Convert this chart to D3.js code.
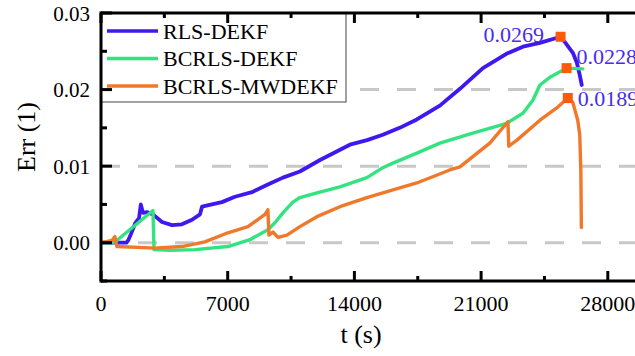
<!DOCTYPE html>
<html><head><meta charset="utf-8">
<script src="https://cdn.jsdelivr.net/npm/d3@7"></script>
<style>body{margin:0;background:#fff}svg{display:block}text{font-family:"Liberation Serif","Times New Roman",serif}</style>
</head><body><svg id="c" width="635" height="356"></svg>
<script>
const seriesNames = ["RLS-DEKF", "BCRLS-DEKF", "BCRLS-MWDEKF"];
const seriesColors = ["#3f17ef", "#33e37f", "#f0782a"];
const rlsT = [0, 1400, 1500, 1650, 1900, 2100, 2200, 2320, 2540, 2870, 3370, 3920, 4470, 5030, 5470, 5580, 6680, 7400, 8340, 9220, 10050, 10990, 12100, 13750, 14700, 15570, 16500, 17450, 18720, 19830, 21100, 22420, 23310, 24250, 25390, 25630, 26070, 26290, 26450, 26560];
const rlsV = [0, 0, 0.0003, 0.0011, 0.0026, 0.0032, 0.0050, 0.0039, 0.0040, 0.0037, 0.0027, 0.0023, 0.0024, 0.0030, 0.0037, 0.0047, 0.0053, 0.0060, 0.0066, 0.0076, 0.0085, 0.0093, 0.0108, 0.0128, 0.0134, 0.0141, 0.0150, 0.0161, 0.0179, 0.0201, 0.0228, 0.0247, 0.0256, 0.0261, 0.0269, 0.0262, 0.0248, 0.0235, 0.0219, 0.0206];
const bcT = [0, 390, 770, 2870, 2930, 3810, 5190, 7010, 8230, 9220, 9610, 10050, 10600, 10990, 11930, 13200, 14690, 15570, 16130, 17450, 18720, 20540, 22420, 23310, 23860, 24250, 24800, 25720, 26620];
const bcV = [0, 0, 0.0001, 0.0042, -0.0009, -0.0010, -0.0009, -0.0005, 0.0004, 0.0017, 0.0026, 0.0039, 0.0053, 0.0059, 0.0065, 0.0073, 0.0085, 0.0098, 0.0104, 0.0117, 0.0130, 0.0143, 0.0156, 0.0169, 0.0186, 0.0206, 0.0216, 0.0228, 0.0227];
const mwT = [0, 610, 770, 880, 2980, 4470, 5740, 7010, 8120, 9060, 9220, 9280, 9500, 9780, 10270, 10990, 11930, 13200, 14690, 16130, 17450, 19270, 19830, 21480, 22480, 22530, 22980, 24250, 25180, 25790, 26070, 26340, 26450, 26510, 26540];
const mwV = [0, 0.0003, 0.0008, -0.0005, -0.0007, -0.0005, 0.0001, 0.0013, 0.0021, 0.0037, 0.0043, 0.0010, 0.0014, 0.0007, 0.0010, 0.0021, 0.0034, 0.0047, 0.0059, 0.0069, 0.0078, 0.0095, 0.0099, 0.0130, 0.0158, 0.0126, 0.0134, 0.0160, 0.0176, 0.0189, 0.0183, 0.0160, 0.0141, 0.0095, 0.0020];
const peakT = [25390, 25720, 25790];
const peakV = [0.0269, 0.0228, 0.0189];
const peakLabels = ["0.0269", "0.0228", "0.0189"];
const xTicks = [0, 7000, 14000, 21000, 28000];
const xMinor = [3500, 10500, 17500, 24500];
const yTicks = [0, 0.01, 0.02, 0.03];
const yTickLabels = ["0.00", "0.01", "0.02", "0.03"];
const yMinor = [-0.005, 0.005, 0.015, 0.025];
const gridV = [0, 0.01, 0.02];

const svg = d3.select("#c");
const x = d3.scaleLinear().domain([0, 30000]).range([101, 644]);
const y = d3.scaleLinear().domain([-0.005, 0.03]).range([281, 13]);

// grid
svg.selectAll(".grid").data(gridV).join("line")
  .attr("x1", x(0)).attr("x2", 640).attr("y1", d => y(d)).attr("y2", d => y(d))
  .attr("stroke", "#c8c8c8").attr("stroke-width", 3).attr("stroke-dasharray", "19,18");

svg.append("clipPath").attr("id", "cp").append("rect")
  .attr("x", x(0)).attr("y", y(0.03)).attr("width", 600).attr("height", y(-0.005) - y(0.03));

const series = [
  {t: rlsT, v: rlsV},
  {t: bcT, v: bcV},
  {t: mwT, v: mwV}
];
const line = d3.line().x(d => x(d[0])).y(d => y(d[1]));
const g = svg.append("g").attr("clip-path", "url(#cp)");
series.forEach((s, i) => {
  g.append("path").datum(s.t.map((t, k) => [t, s.v[k]]))
    .attr("d", line).attr("fill", "none").attr("stroke", seriesColors[i])
    .attr("stroke-width", i === 0 ? 3.8 : 3.4).attr("stroke-linejoin", "round").attr("stroke-linecap", "round");
});

// peak markers
svg.selectAll(".pk").data(peakT).join("rect")
  .attr("x", (d) => x(d) - 5).attr("y", (d, i) => y(peakV[i]) - 5)
  .attr("width", 10).attr("height", 10).attr("fill", "#ff5a0a");

// peak labels
const lblDx = [-77, 10, 10];
const lblDy = [5, -4, 8];
svg.selectAll(".pl").data(peakLabels).join("text")
  .attr("x", (d, i) => x(peakT[i]) + lblDx[i]).attr("y", (d, i) => y(peakV[i]) + lblDy[i])
  .attr("font-size", 22).attr("fill", "#4a2cf0").text(d => d);

// axes lines
const ax = svg.append("g").attr("stroke", "#000").attr("stroke-width", 3).attr("fill", "none");
ax.append("line").attr("x1", x(0)).attr("x2", 640).attr("y1", y(-0.005)).attr("y2", y(-0.005));
ax.append("line").attr("x1", x(0)).attr("x2", 640).attr("y1", y(0.03)).attr("y2", y(0.03));
ax.append("line").attr("x1", x(0)).attr("x2", x(0)).attr("y1", y(0.03) - 1.5).attr("y2", y(-0.005) + 1.5);

xTicks.forEach(t => {
  ax.append("line").attr("x1", x(t)).attr("x2", x(t)).attr("y1", y(-0.005)).attr("y2", y(-0.005) - 10);
  ax.append("line").attr("x1", x(t)).attr("x2", x(t)).attr("y1", y(0.03)).attr("y2", y(0.03) + 10);
});
xMinor.forEach(t => {
  ax.append("line").attr("x1", x(t)).attr("x2", x(t)).attr("y1", y(-0.005)).attr("y2", y(-0.005) - 5);
  ax.append("line").attr("x1", x(t)).attr("x2", x(t)).attr("y1", y(0.03)).attr("y2", y(0.03) + 5);
});
yTicks.forEach(v => {
  ax.append("line").attr("x1", x(0)).attr("x2", x(0) + 11).attr("y1", y(v)).attr("y2", y(v));
});
yMinor.forEach(v => {
  ax.append("line").attr("x1", x(0)).attr("x2", x(0) + 6).attr("y1", y(v)).attr("y2", y(v));
});

// tick labels
svg.selectAll(".xl").data(xTicks).join("text")
  .attr("x", d => x(d)).attr("y", 311).attr("text-anchor", "middle")
  .attr("font-size", 22).text(d => String(d));
svg.selectAll(".yl").data(yTicks).join("text")
  .attr("x", 90).attr("y", d => y(d) + 7.5).attr("text-anchor", "end")
  .attr("font-size", 21).text((d, i) => yTickLabels[i]);

// titles
svg.append("text").attr("x", 361).attr("y", 343).attr("text-anchor", "middle").attr("font-size", 26).text("t (s)");
svg.append("text").attr("transform", "translate(35,137) rotate(-90)").attr("text-anchor", "middle").attr("font-size", 26).text("Err (1)");

// legend
svg.append("rect").attr("x", x(0)).attr("y", y(0.03)).attr("width", 245).attr("height", 89)
  .attr("fill", "#fff").attr("stroke", "#444").attr("stroke-width", 1);
ax.raise();
const lg = svg.append("g");
seriesNames.forEach((n, i) => {
  const yy = 31 + i * 27.5;
  lg.append("line").attr("x1", 107).attr("x2", 158).attr("y1", yy).attr("y2", yy)
    .attr("stroke", seriesColors[i]).attr("stroke-width", 3.5);
  lg.append("text").attr("x", 163).attr("y", yy + 7.5).attr("font-size", 22).text(n);
});
</script></body></html>
